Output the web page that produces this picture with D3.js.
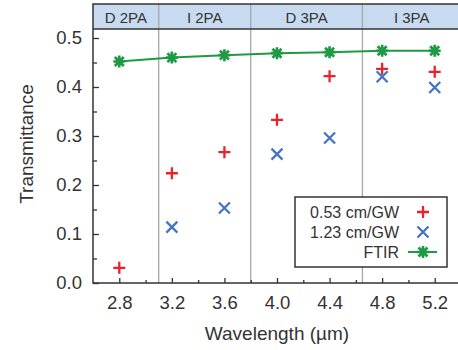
<!DOCTYPE html>
<html>
<head>
<meta charset="utf-8">
<script src="https://cdn.jsdelivr.net/npm/d3@7"></script>
<style>
  body { margin: 0; background: #fff; }
  text { font-family: "Liberation Sans", Arial, sans-serif; fill: #333; }
</style>
</head>
<body>
<div id="chart"></div>
<script>
const wavelengths = [2.8, 3.2, 3.6, 4.0, 4.4, 4.8, 5.2]
const red053 = [0.031, 0.224, 0.267, 0.333, 0.422, 0.437, 0.431]
const blue123 = [null, 0.114, 0.153, 0.263, 0.296, 0.421, 0.399]
const ftir = [0.452, 0.460, 0.465, 0.469, 0.471, 0.474, 0.474]
const regions = ['D 2PA', 'I 2PA', 'D 3PA', 'I 3PA']
const regionEdges = [2.6, 3.1, 3.8, 4.65, 5.4]
const xTicks = [2.8, 3.2, 3.6, 4.0, 4.4, 4.8, 5.2]
const yTicks = [0, 0.1, 0.2, 0.3, 0.4, 0.5]

const width = 458, height = 350
const plotLeft = 93, plotRight = 461, plotTop = 29, plotBottom = 283, headTop = 4

const svg = d3.select('#chart').append('svg')
  .attr('width', width).attr('height', height)

const x = d3.scaleLinear().domain([2.6, 5.4]).range([plotLeft, plotRight])
const y = d3.scaleLinear().domain([0, 0.5]).range([plotBottom, 38])

// header band
svg.append('rect')
  .attr('x', plotLeft).attr('y', headTop)
  .attr('width', plotRight - plotLeft).attr('height', plotTop - headTop)
  .attr('fill', '#c8daf0')

svg.selectAll('text.region')
  .data(regions)
  .enter().append('text')
  .attr('class', 'region')
  .attr('x', (d, i) => (x(regionEdges[i]) + x(regionEdges[i + 1])) / 2)
  .attr('y', 23)
  .attr('text-anchor', 'middle')
  .attr('font-size', 15)
  .text(d => d)

// region dividers
svg.selectAll('line.div')
  .data(regionEdges.slice(1, -1))
  .enter().append('line')
  .attr('class', 'div')
  .attr('x1', d => x(d)).attr('x2', d => x(d))
  .attr('y1', headTop).attr('y2', plotBottom)
  .attr('stroke', '#a8a8a8').attr('stroke-width', 1.3)

// frame
svg.append('path')
  .attr('d', `M${plotRight},${headTop}H${plotLeft}V${plotBottom}H${plotRight}`)
  .attr('fill', 'none').attr('stroke', '#333').attr('stroke-width', 1.5)
svg.append('line')
  .attr('x1', plotLeft).attr('x2', plotRight).attr('y1', plotTop).attr('y2', plotTop)
  .attr('stroke', '#333').attr('stroke-width', 1.3)

// axes
const xAxis = d3.axisBottom(x).tickValues(xTicks).tickFormat(d3.format('.1f'))
  .tickSizeInner(-5).tickSizeOuter(0).tickPadding(13)
svg.append('g').attr('transform', `translate(0,${plotBottom})`).call(xAxis)
const xMinor = d3.axisBottom(x).tickValues(d3.range(3.0, 5.3, 0.4)).tickFormat('')
  .tickSizeInner(-3).tickSizeOuter(0)
svg.append('g').attr('transform', `translate(0,${plotBottom})`).call(xMinor)

const yAxis = d3.axisLeft(y).tickValues(yTicks).tickFormat(d3.format('.1f'))
  .tickSizeInner(-6).tickSizeOuter(0).tickPadding(11)
svg.append('g').attr('transform', `translate(${plotLeft},0)`).call(yAxis)
const yMinor = d3.axisLeft(y).tickValues([0.05, 0.15, 0.25, 0.35, 0.45]).tickFormat('')
  .tickSizeInner(-4).tickSizeOuter(0)
svg.append('g').attr('transform', `translate(${plotLeft},0)`).call(yMinor)

svg.selectAll('.domain').remove()
svg.selectAll('.tick line').attr('stroke', '#333').attr('stroke-width', 1.3)
svg.selectAll('.tick text').attr('font-size', 18.5).attr('fill', '#333')
  .style('font-family', '"Liberation Sans", Arial, sans-serif')

svg.append('text')
  .attr('x', 277).attr('y', 340)
  .attr('text-anchor', 'middle').attr('font-size', 19)
  .text('Wavelength (µm)')
svg.append('text')
  .attr('transform', 'translate(33,144) rotate(-90)')
  .attr('text-anchor', 'middle').attr('font-size', 19)
  .text('Transmittance')

// markers
const red = '#e8232b', blue = '#4673c4', green = '#1e9a45'
const plusPath = s => `M${-s},0H${s}M0,${-s}V${s}`
const crossPath = s => `M${-s},${-s}L${s},${s}M${-s},${s}L${s},${-s}`
const starPath = s => plusPath(s) + crossPath(s * 0.75)

const line = d3.line().x((d, i) => x(wavelengths[i])).y(d => y(d))
svg.append('path')
  .datum(ftir)
  .attr('d', line)
  .attr('fill', 'none').attr('stroke', green).attr('stroke-width', 2)

const drawPoints = (vals, pathFn, size, color, cls, sw) => {
  svg.selectAll('path.' + cls)
    .data(vals.map((v, i) => ({ v, w: wavelengths[i] })).filter(d => d.v != null))
    .enter().append('path')
    .attr('class', cls)
    .attr('transform', d => `translate(${x(d.w)},${y(d.v)})`)
    .attr('d', pathFn(size))
    .attr('fill', 'none').attr('stroke', color).attr('stroke-width', sw)
}
drawPoints(ftir, starPath, 6, green, 'ftir', 2.7)
drawPoints(red053, plusPath, 6, red, 'red', 2.3)
drawPoints(blue123, crossPath, 5.5, blue, 'blue', 2.3)

// legend
const lg = svg.append('g')
lg.append('rect')
  .attr('x', 295).attr('y', 197).attr('width', 152).attr('height', 70)
  .attr('fill', '#fff').attr('stroke', '#333').attr('stroke-width', 1.5)
const legendItems = [
  { label: '0.53 cm/GW', path: plusPath(6), color: red, sw: 2.3 },
  { label: '1.23 cm/GW', path: crossPath(5.5), color: blue, sw: 2.3 },
  { label: 'FTIR', path: starPath(6), color: green, sw: 2.7 }
]
legendItems.forEach((d, i) => {
  const cy = 212 + i * 20
  lg.append('text').attr('x', 399).attr('y', cy + 6)
    .attr('text-anchor', 'end').attr('font-size', 16).text(d.label)
  if (i === 2) {
    lg.append('line').attr('x1', 408).attr('x2', 437).attr('y1', cy).attr('y2', cy)
      .attr('stroke', d.color).attr('stroke-width', 2)
  }
  lg.append('path').attr('transform', `translate(423,${cy})`)
    .attr('d', d.path).attr('fill', 'none').attr('stroke', d.color).attr('stroke-width', d.sw)
})
</script>
</body>
</html>
